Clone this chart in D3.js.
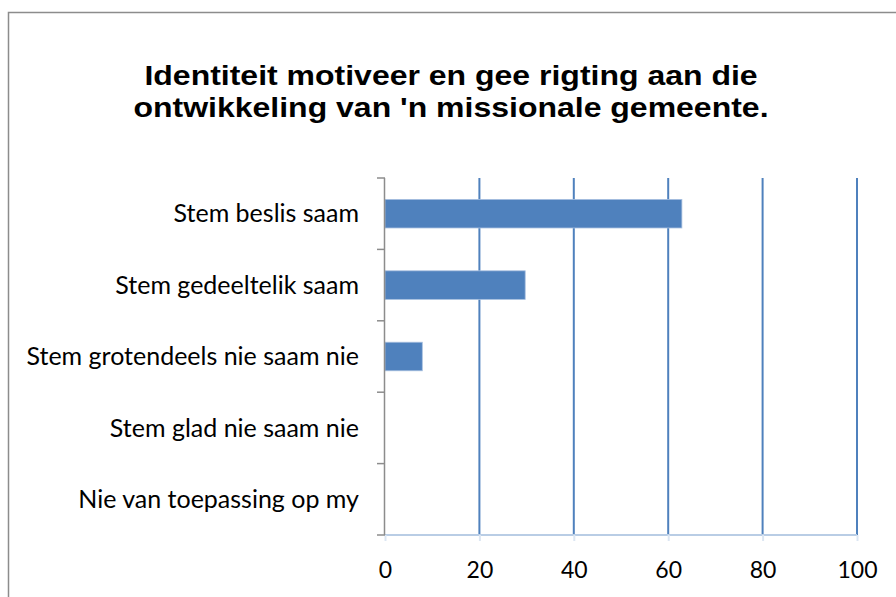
<!DOCTYPE html>
<html>
<head>
<meta charset="utf-8">
<script src="https://cdn.jsdelivr.net/npm/d3@7"></script>
<style>
  html, body { margin: 0; padding: 0; background: #fff; }
  svg { display: block; }
</style>
</head>
<body>
<svg id="chart" width="896" height="597"></svg>
<script>
var titleLines = ['Identiteit motiveer en gee rigting aan die', "ontwikkeling van 'n missionale gemeente."];
var categories = ['Stem beslis saam', 'Stem gedeeltelik saam', 'Stem grotendeels nie saam nie', 'Stem glad nie saam nie', 'Nie van toepassing op my'];
var values = [62.9, 29.7, 7.9, 0, 0];
var xTicks = [0, 20, 40, 60, 80, 100];

var svg = d3.select('#chart');

var plotLeft = 385, plotRight = 857, plotTop = 178, plotBottom = 535;
var barColor = '#4f81bd';

// outer frame, runs off the right and bottom edge like the original
svg.append('rect')
	.attr('x', 8.5).attr('y', 12.5)
	.attr('width', 900).attr('height', 600)
	.attr('fill', 'none')
	.attr('stroke', '#8c8c8c')
	.attr('stroke-width', 1.5);

// the title in the original is stretched sideways a bit
svg.append('g')
	.attr('transform', 'translate(451,0) scale(1.185,1)')
	.append('text')
	.attr('x', 0)
	.attr('y', 85)
	.attr('text-anchor', 'middle')
	.attr('font-family', 'Liberation Sans, Arial, sans-serif')
	.attr('font-weight', 'bold')
	.attr('font-size', 27)
	.attr('fill', '#000')
	.selectAll('tspan')
	.data(titleLines)
	.enter()
	.append('tspan')
	.attr('x', 0)
	.attr('dy', function(d, i) { return i === 0 ? 0 : 32; })
	.text(function(d) { return d; });

var x = d3.scaleLinear().domain([0, 100]).range([plotLeft, plotRight]);
var y = d3.scaleBand().domain(categories).range([plotTop, plotBottom]).paddingInner(0.6).paddingOuter(0.3);
var step = y.step();

// vertical gridlines
svg.append('g')
	.selectAll('line')
	.data(xTicks.filter(function(d) { return d > 0; }))
	.enter()
	.append('line')
	.attr('x1', function(d) { return x(d); })
	.attr('x2', function(d) { return x(d); })
	.attr('y1', plotTop)
	.attr('y2', plotBottom)
	.attr('stroke', barColor)
	.attr('stroke-width', 2);

// bars
svg.append('g')
	.selectAll('rect')
	.data(values)
	.enter()
	.append('rect')
	.attr('x', x(0))
	.attr('y', function(d, i) { return y(categories[i]); })
	.attr('width', function(d) { return x(d) - x(0); })
	.attr('height', y.bandwidth())
	.attr('fill', barColor)
	.attr('stroke', '#a7bfdf')
	.attr('stroke-width', function(d) { return d > 0 ? 0.8 : 0; });

// x axis
var xAxis = svg.append('g')
	.attr('transform', 'translate(0,' + plotBottom + ')')
	.call(d3.axisBottom(x).tickValues(xTicks).tickSize(6).tickPadding(21));
xAxis.select('.domain').attr('stroke', '#b9cde5').attr('stroke-width', 2).attr('d', 'M' + plotLeft + ',0H' + plotRight);
xAxis.selectAll('.tick line').attr('stroke', '#dce6f2').attr('stroke-width', 2);
xAxis.selectAll('.tick text')
	.attr('fill', '#000')
	.attr('font-family', 'Lato, Calibri, sans-serif')
	.attr('font-size', 23);

// y axis: gray line with ticks at band edges
var yAxis = svg.append('g');
yAxis.append('line')
	.attr('x1', plotLeft - 0.5).attr('x2', plotLeft - 0.5)
	.attr('y1', plotTop).attr('y2', plotBottom)
	.attr('stroke', '#8c8c8c').attr('stroke-width', 1.5);
yAxis.selectAll('line.edge')
	.data(d3.range(categories.length + 1))
	.enter()
	.append('line')
	.attr('class', 'edge')
	.attr('x1', plotLeft - 8).attr('x2', plotLeft)
	.attr('y1', function(i) { return plotTop + i * step; })
	.attr('y2', function(i) { return plotTop + i * step; })
	.attr('stroke', '#8c8c8c').attr('stroke-width', 1.5);
yAxis.selectAll('text')
	.data(categories)
	.enter()
	.append('text')
	.attr('x', 359)
	.attr('y', function(d) { return y(d) + y.bandwidth() / 2; })
	.attr('dy', '0.35em')
	.attr('text-anchor', 'end')
	.attr('font-family', 'Lato, Calibri, sans-serif')
	.attr('font-size', 25)
	.attr('fill', '#000')
	.text(function(d) { return d; });
</script>
</body>
</html>
